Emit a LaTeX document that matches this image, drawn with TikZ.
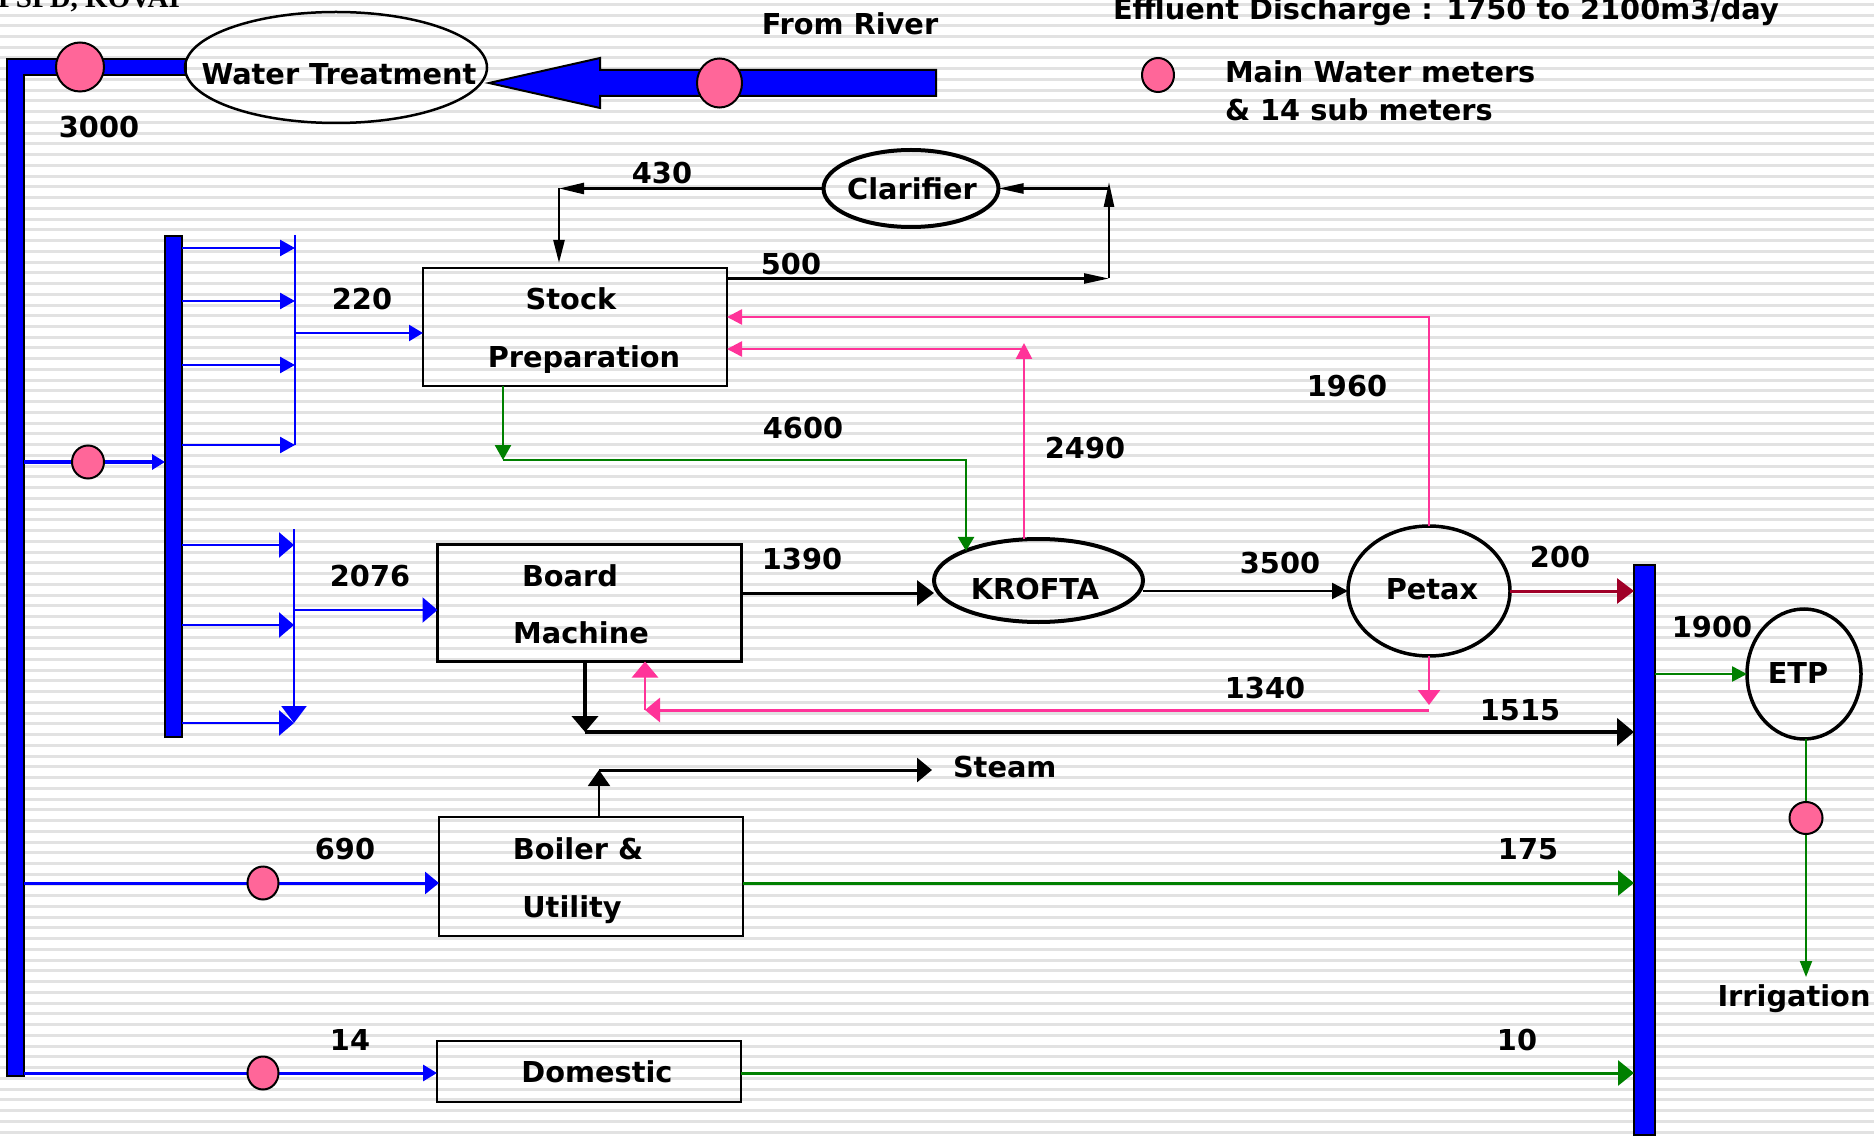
\documentclass[tikz,border=0pt]{standalone}
\usepackage{fontspec}
\setmainfont{DejaVu Sans}
\newfontfamily\titlefont{Liberation Serif}
\usetikzlibrary{arrows.meta,shapes.geometric}
\definecolor{bblue}{RGB}{0,0,255}
\definecolor{meterpink}{RGB}{255,102,153}
\definecolor{flowpink}{RGB}{255,51,153}
\definecolor{flowgreen}{RGB}{0,128,0}
\definecolor{flowred}{RGB}{160,0,40}
\definecolor{stripecol}{RGB}{226,226,226}
\pgfdeclarelayer{bg}
\pgfdeclarelayer{fg}
\pgfsetlayers{bg,main,fg}
\tikzset{
  lbl/.style={font=\fontsize{28.8}{34}\selectfont\bfseries, inner sep=0pt, outer sep=0pt, anchor=base},
  boxn/.style={draw=black, line width=2.5pt, rectangle, inner sep=0pt, outer sep=0pt},
  ell/.style={draw=black, ellipse, inner sep=0pt, outer sep=0pt},
  meter/.style={draw=black, line width=2pt, fill=meterpink, ellipse, inner sep=0pt, outer sep=0pt},
  barshape/.style={draw=black, line width=2pt, fill=bblue, rectangle, inner sep=0pt, outer sep=0pt},
  wire/.style 2 args={draw=#1, line width=#2pt},
  ah/.style 2 args={-{Triangle[length=#1pt,width=#2pt]}},
}
\begin{document}
\begin{tikzpicture}[x=1pt,y=-1pt]
\useasboundingbox (0,0) rectangle (1874,1139);
\begin{pgfonlayer}{bg}
  \fill[white] (0,0) rectangle (1874,1139);
  \foreach \k in {0,...,106} {
    \draw[stripecol, line width=3pt] (0,4.3+\k*10.74) -- (1874,4.3+\k*10.74);
  }
\end{pgfonlayer}
\clip (0,0) rectangle (1874,1139);

% title (cut off at the top)
\node[font=\titlefont\bfseries\fontsize{29}{34}\selectfont, anchor=base east, inner sep=0pt] (t-kovai) at (180,8) {ITC PSPD, KOVAI};

% main L-shaped supply bar
\draw[draw=black, line width=2pt, fill=bblue] (7,59) -- (186,59) -- (186,75) -- (24,75) -- (24,1076) -- (7,1076) -- cycle;
\coordinate (lbar) at (24,0);

% river arrow
\draw[draw=black, line width=2pt, fill=bblue] (489,83) -- (600,58) -- (600,70) -- (936,70) -- (936,96) -- (600,96) -- (600,108) -- cycle;

% shapes
\node[ell, line width=2.5pt, minimum width=302pt, minimum height=111pt] (wt) at (336,67.5) {};
\node[ell, line width=4pt, minimum width=175pt, minimum height=77pt] (clar) at (911,188.5) {};
\node[boxn, minimum width=304pt, minimum height=118pt] (sp) at (575,327) {};
\node[boxn, minimum width=304pt, minimum height=117pt] (bm) at (589.5,603) {};
\node[boxn, minimum width=304pt, minimum height=119pt] (bu) at (591,876.5) {};
\node[boxn, minimum width=304pt, minimum height=61pt] (dom) at (589,1071.5) {};
\node[ell, line width=4pt, minimum width=209pt, minimum height=83pt] (kro) at (1038.5,580.5) {};
\node[ell, line width=3.5pt, minimum width=162pt, minimum height=130pt] (pet) at (1429,591) {};
\node[ell, line width=3.5pt, minimum width=114pt, minimum height=130pt] (etp) at (1804,674) {};
\node[barshape, minimum width=17pt, minimum height=501pt] (hdr) at (173.5,486.5) {};
\node[barshape, minimum width=21pt, minimum height=570pt] (col) at (1644.5,850) {};

% meters
\begin{pgfonlayer}{fg}
  \node[meter, minimum width=48pt, minimum height=49pt] (m1) at (80,67) {};
  \node[meter, minimum width=45pt, minimum height=49pt] (m2) at (719.5,83) {};
  \node[meter, minimum width=32pt, minimum height=34pt] (m3) at (1158,75) {};
  \node[meter, minimum width=32pt, minimum height=33pt] (m4) at (88,462) {};
  \node[meter, minimum width=31pt, minimum height=33pt] (m5) at (263,883) {};
  \node[meter, minimum width=31pt, minimum height=33pt] (m6) at (263,1073) {};
  \node[meter, minimum width=33pt, minimum height=32pt] (m7) at (1806,818) {};
\end{pgfonlayer}

% feeder to distribution header
\draw[wire={bblue}{4.5}, ah={13}{15}] (lbar |- m4) -- (hdr.west |- m4);

% upper distribution group
\coordinate (ua) at (295,235);
\coordinate (ub) at (295,445);
\draw[wire={bblue}{2.5}] (ua) -- (ub);
\foreach \yy [count=\i] in {248,301,365,445} {
  \coordinate (u\i) at (295,\yy);
  \draw[wire={bblue}{2.5}, ah={15}{16}] (hdr.east |- u\i) -- (u\i);
}
\coordinate (u0) at (295,333);
\draw[wire={bblue}{2.5}, ah={14}{16}] (u0) -- (sp.west |- u0);

% lower distribution group
\coordinate (la) at (294,529);
\coordinate (lb) at (294,723);
\draw[wire={bblue}{2.5}, ah={17}{25}] (la) -- (lb);
\foreach \yy [count=\i] in {545,625,723} {
  \coordinate (d\i) at (294,\yy);
  \draw[wire={bblue}{2.5}, ah={15}{25}] (hdr.east |- d\i) -- (d\i);
}
\coordinate (l0) at (294,610);
\draw[wire={bblue}{2.5}, ah={15}{25}] (l0) -- (bm.west |- l0);

% clarifier loop
\coordinate (c430) at (559,188.5);
\draw[wire={black}{2.5}, ah={25}{11}] (clar.west) -- (c430);
\draw[wire={black}{2.5}, ah={23}{11}, shorten >=5pt] (c430) -- (sp.north -| c430);
\coordinate (c5a) at (1109,278.5);
\coordinate (c5b) at (1109,182);
\coordinate (c5c) at (1109,188.5);
\draw[wire={black}{2.5}, ah={25}{10}] (sp.east |- c5a) -- (c5a);
\draw[wire={black}{2.5}, ah={25}{10}] (c5a) -- (c5b);
\draw[wire={black}{2.5}, ah={25}{10}] (c5c) -- (clar.east);

% pink returns
\coordinate (p19) at (1429,317);
\draw[wire={flowpink}{2.5}, ah={15}{15}] (pet.north) -- (p19) -- (sp.east |- p19);
\coordinate (p24t) at (1024,343);
\coordinate (p24) at (1024,349);
\draw[wire={flowpink}{2.5}, ah={16}{16}] (kro.north -| p24) -- (p24t);
\draw[wire={flowpink}{2.5}, ah={15}{15}] (p24) -- (sp.east |- p24);
\coordinate (p13a) at (1429,705);
\coordinate (p13b) at (1429,710);
\coordinate (p13c) at (645,710);
\draw[wire={flowpink}{2.5}, ah={15}{22}] (pet.south) -- (p13a);
\draw[wire={flowpink}{3}, ah={15}{24}] (p13b) -- (p13c);
\draw[wire={flowpink}{2.5}, ah={16}{26}] (p13c) -- (bm.south -| p13c);

% green 4600
\coordinate (g1) at (503,460);
\coordinate (g2) at (966,460);
\draw[wire={flowgreen}{2.5}, ah={15}{16}] (sp.south -| g1) -- (g1);
\draw[wire={flowgreen}{2.5}, ah={14}{16}] (g1) -- (g2) -- (g2 |- kro.158);

% machine flows
\coordinate (k1) at (0,593);
\draw[wire={black}{3}, ah={17}{25}] (bm.east |- k1) -- (kro.west |- k1);
\draw[wire={black}{2.5}, ah={16}{16}] (kro.east |- pet.west) -- (pet.west);
\draw[wire={flowred}{3}, ah={17}{25}] (pet.east) -- (col.west |- pet.east);
\coordinate (b1) at (585,732);
\draw[wire={black}{4.5}, ah={16}{26}] (bm.south -| b1) -- (b1);
\draw[wire={black}{4.5}, ah={17}{27}] (b1) -- (col.west |- b1);

% steam
\coordinate (s1) at (599,770);
\coordinate (s2) at (932,770);
\draw[wire={black}{2}, ah={16}{22}] (bu.north -| s1) -- (s1);
\draw[wire={black}{3}, ah={15}{24}] (s1) -- (s2);

% boiler and domestic
\draw[wire={bblue}{3}, ah={14}{22}] (lbar |- m5) -- (bu.west |- m5);
\draw[wire={bblue}{3}, ah={14}{16}] (lbar |- m6) -- (dom.west |- m6);
\draw[wire={flowgreen}{3}, ah={16}{25}] (bu.east |- m5) -- (col.west |- m5);
\draw[wire={flowgreen}{3}, ah={16}{25}] (dom.east |- m6) -- (col.west |- m6);

% ETP
\draw[wire={flowgreen}{2.5}, ah={15}{15}] (col.east |- etp.west) -- (etp.west);
\coordinate (irr) at (1806,977);
\draw[wire={flowgreen}{2}, ah={16}{12}] (etp.south -| irr) -- (irr);

% texts
\node[lbl] (t-wt) at (339,85) {Water Treatment};
\node[lbl] (t-river) at (850,35) {From River};
\node[lbl, anchor=base west] (t-eff) at (1113,20) {Effluent Discharge : 1750 to 2100m3/day};
\node[lbl, anchor=base west] (t-leg1) at (1225,83) {Main Water meters};
\node[lbl, anchor=base west] (t-leg2) at (1225,121) {\& 14 sub meters};
\node[lbl] (t3000) at (99,138) {3000};
\node[lbl] (t430) at (662,184) {430};
\node[lbl] (t-clar) at (912,200) {Clarifier};
\node[lbl] (t500) at (791,275) {500};
\node[lbl] (t220) at (362,310) {220};
\node[lbl] (t-stock) at (571,310) {Stock};
\node[lbl] (t-prep) at (584,368) {Preparation};
\node[lbl] (t2076) at (370,586) {2076};
\node[lbl] (t-board) at (570,586) {Board};
\node[lbl] (t-mach) at (581,643) {Machine};
\node[lbl] (t4600) at (803,438) {4600};
\node[lbl] (t2490) at (1085,458) {2490};
\node[lbl] (t1960) at (1347,396) {1960};
\node[lbl] (t1390) at (802,569) {1390};
\node[lbl] (t-krofta) at (1035,599) {KROFTA};
\node[lbl] (t3500) at (1280,573) {3500};
\node[lbl] (t-petax) at (1432,599) {Petax};
\node[lbl] (t200) at (1560,567) {200};
\node[lbl] (t1900) at (1712,637) {1900};
\node[lbl] (t-etp) at (1798,683) {ETP};
\node[lbl] (t1340) at (1265,698) {1340};
\node[lbl] (t1515) at (1520,720) {1515};
\node[lbl, anchor=base west] (t-steam) at (953,777) {Steam};
\node[lbl] (t690) at (345,859) {690};
\node[lbl] (t-boiler) at (578,859) {Boiler \&};
\node[lbl] (t-util) at (572,917) {Utility};
\node[lbl] (t175) at (1528,859) {175};
\node[lbl] (t14) at (350,1050) {14};
\node[lbl] (t-dom) at (597,1082) {Domestic};
\node[lbl] (t10) at (1517,1050) {10};
\node[lbl] (t-irr) at (1794,1006) {Irrigation};
\end{tikzpicture}
\end{document}
